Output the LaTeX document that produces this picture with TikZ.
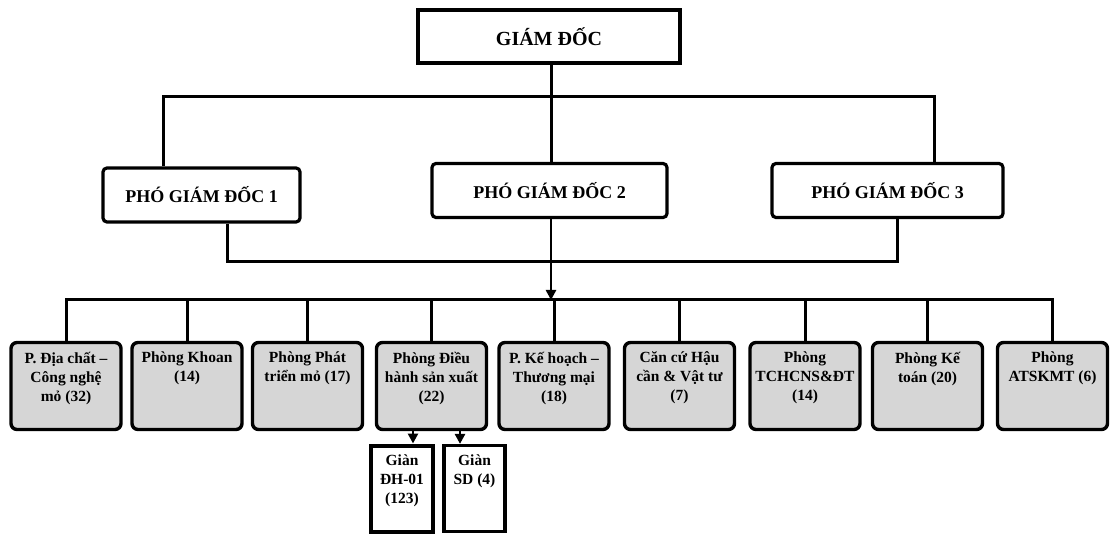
\documentclass[tikz,border=0pt]{standalone}
\usepackage{fontspec}
\setmainfont{Liberation Serif}
\usetikzlibrary{arrows.meta,positioning}
\begin{document}
\begin{tikzpicture}[x=1pt,y=-1pt,
  conn/.style={line width=3pt},
  arr/.style={line width=2.6pt,-{Triangle[width=10pt,length=10pt]}},
  topbox/.style={draw,line width=3.6pt,fill=white,minimum width=262pt,minimum height=53pt,inner sep=0pt,font=\bfseries\fontsize{20}{22}\selectfont},
  vpbox/.style={draw,line width=3.2pt,rounded corners=4pt,fill=white,minimum height=54pt,inner sep=0pt,font=\bfseries\fontsize{18}{20}\selectfont},
  dept/.style={draw,line width=3.4pt,rounded corners=6pt,fill=black!16,minimum width=110pt,minimum height=87pt,inner sep=0pt},
  depttext/.style={anchor=north,align=center,inner sep=0pt,font=\bfseries\fontsize{15.5}{19}\selectfont},
  sub/.style={draw,fill=white,minimum height=86pt,inner sep=0pt},
]
\useasboundingbox (0,0) rectangle (1111,534);
% top
\node[topbox] (gd) at (549,36.5) {GIÁM ĐỐC};
\node[vpbox,minimum width=197pt] (p1) at (201.5,195) {PHÓ GIÁM ĐỐC 1};
\node[vpbox,minimum width=235pt] (p2) at (549.5,190.5) {PHÓ GIÁM ĐỐC 2};
\node[vpbox,minimum width=231pt] (p3) at (887.5,190.5) {PHÓ GIÁM ĐỐC 3};
\coordinate (topbus) at (551,97);
\coordinate (midbus) at (551,262);
\coordinate (lowbus) at (551,300);
% connectors top
\draw[conn] (gd.south -| topbus) -- (p2.north -| topbus);
\draw[conn] ([xshift=-38pt]p1.north) |- (topbus) -| ([xshift=47pt]p3.north);
\draw[conn] ([xshift=26pt]p1.south) |- (midbus) -| ([xshift=10pt]p3.south);
\draw[arr] (p2.south -| midbus) -- (lowbus);
% departments
\foreach \n/\x in {1/66,2/187,3/307.5,4/431.5,5/554,6/679.5,7/805,8/927.5,9/1052.5}{
  \node[dept] (d\n) at (\x,386) {};
}
\draw[conn] (d1.north) |- (lowbus) -| (d9.north);
\foreach \n in {2,...,8}{\draw[conn] (d\n.north) -- (d\n.north |- lowbus);}
\node[depttext] (t1) at ([yshift=-11pt]d1.north) {P. Địa chất –\\Công nghệ\\mỏ (32)};
\node[depttext] (t2) at ([yshift=-11pt]d2.north) {Phòng Khoan\\(14)};
\node[depttext] (t3) at ([yshift=-11pt]d3.north) {Phòng Phát\\triển mỏ (17)};
\node[depttext] (t4) at ([yshift=-11pt]d4.north) {Phòng Điều\\hành sản xuất\\(22)};
\node[depttext] (t5) at ([yshift=-11pt]d5.north) {P. Kế hoạch –\\Thương mại\\(18)};
\node[depttext] (t6) at ([yshift=-11pt]d6.north) {Căn cứ Hậu\\cần \& Vật tư\\(7)};
\node[depttext] (t7) at ([yshift=-11pt]d7.north) {Phòng\\TCHCNS\&ĐT\\(14)};
\node[depttext] (t8) at ([yshift=-11pt]d8.north) {Phòng Kế\\toán (20)};
\node[depttext] (t9) at ([yshift=-11pt]d9.north) {Phòng\\ATSKMT (6)};
% sub units
\node[sub,line width=4pt,minimum width=62pt] (s1) at (402,488.5) {};
\node[sub,line width=3.2pt,minimum width=61pt] (s2) at (474.5,488.5) {};
\node[depttext] (u1) at ([yshift=-11pt]s1.north) {Giàn\\ĐH-01\\(123)};
\node[depttext] (u2) at ([yshift=-11pt]s2.north) {Giàn\\SD (4)};
\draw[arr] (d4.south -| 413,0) -- (s1.north -| 413,0);
\draw[arr] (d4.south -| 460,0) -- (s2.north -| 460,0);
\end{tikzpicture}
\end{document}
